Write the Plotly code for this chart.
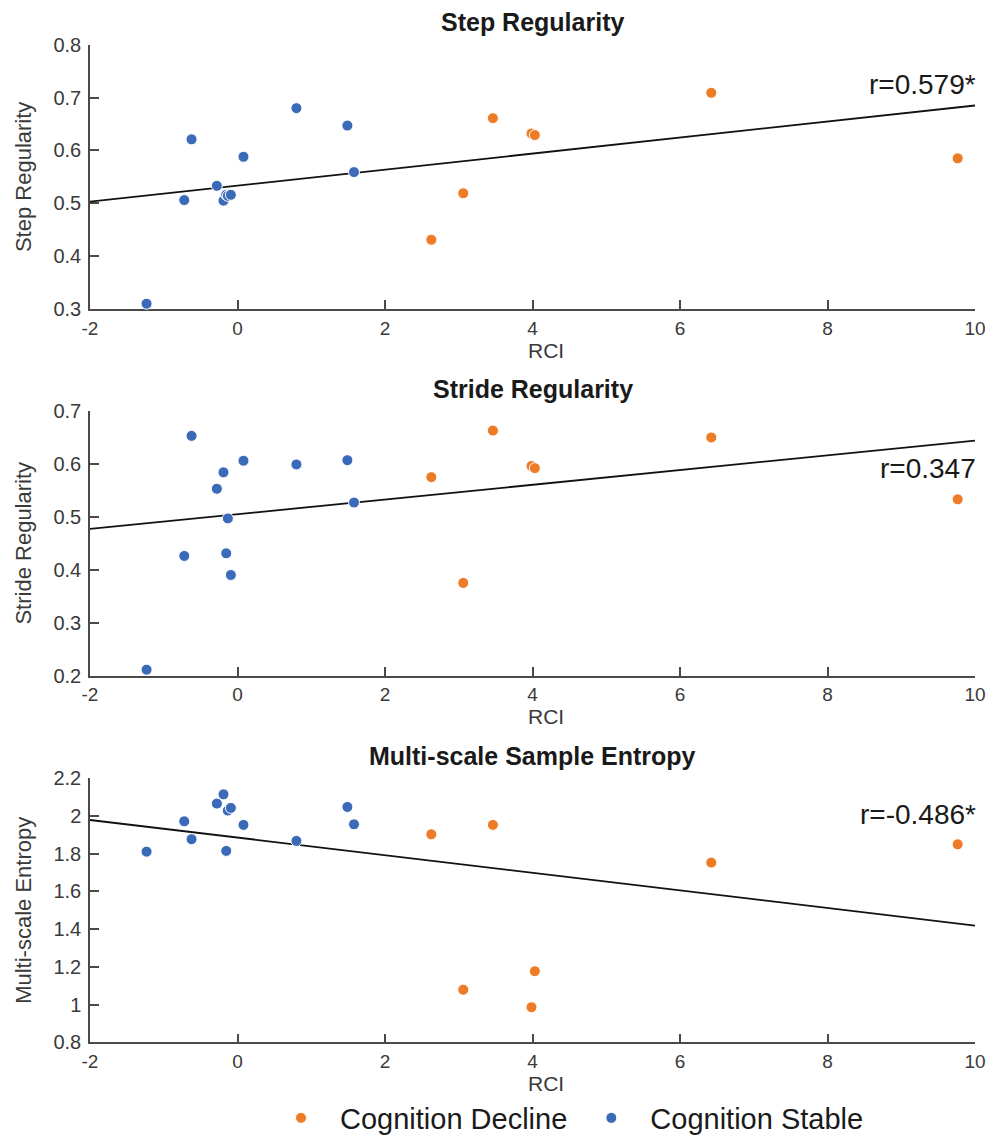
import plotly.graph_objects as go

# ---------------- data ----------------
stable_x = [-1.233, -0.722, -0.623, -0.280, -0.190, -0.153, -0.131, -0.090, 0.081, 0.799, 1.490, 1.580]
decline_x = [2.628, 3.061, 3.463, 3.986, 4.032, 6.424, 9.765]

step_stable = [0.310, 0.506, 0.621, 0.533, 0.505, 0.516, 0.514, 0.516, 0.588, 0.680, 0.647, 0.559]
step_decline = [0.431, 0.519, 0.661, 0.632, 0.629, 0.709, 0.585]

stride_stable = [0.211, 0.426, 0.653, 0.553, 0.584, 0.431, 0.497, 0.390, 0.606, 0.599, 0.607, 0.527]
stride_decline = [0.575, 0.375, 0.663, 0.596, 0.592, 0.650, 0.533]

mse_stable = [1.811, 1.972, 1.877, 2.066, 2.115, 1.815, 2.029, 2.043, 1.953, 1.868, 2.048, 1.956]
mse_decline = [1.903, 1.079, 1.953, 0.986, 1.177, 1.753, 1.850]

fit_x = [-2, 10]
step_fit = [0.503, 0.685]
stride_fit = [0.477, 0.644]
mse_fit = [1.979, 1.419]

titles = ["Step Regularity", "Stride Regularity", "Multi-scale Sample Entropy"]
ytitles = ["Step Regularity", "Stride Regularity", "Multi-scale Entropy"]
xtitle = "RCI"
r_labels = ["r=0.579*", "r=0.347", "r=-0.486*"]
r_label_y = [0.725, 0.592, 2.006]

x_ticks = [-2, 0, 2, 4, 6, 8, 10]
x_ticktext = ["-2", "0", "2", "4", "6", "8", "10"]
y_ticks = [
    [0.3, 0.4, 0.5, 0.6, 0.7, 0.8],
    [0.2, 0.3, 0.4, 0.5, 0.6, 0.7],
    [0.8, 1.0, 1.2, 1.4, 1.6, 1.8, 2.0, 2.2],
]
y_ticktext = [
    ["0.3", "0.4", "0.5", "0.6", "0.7", "0.8"],
    ["0.2", "0.3", "0.4", "0.5", "0.6", "0.7"],
    ["0.8", "1", "1.2", "1.4", "1.6", "1.8", "2", "2.2"],
]
y_ranges = [[0.3, 0.8], [0.2, 0.7], [0.8, 2.2]]

# ---------------- style ----------------
W, H = 993, 1138
BLUE = "#3b6bb8"
ORANGE = "#ee7b26"
AXIS = "#4a4a4a"
TXT = "#3a3a3a"
FONT = "Liberation Sans, Arial, Helvetica, sans-serif"

# plot areas in pixels (top, bottom)
panels_px = [(44.7, 309.0), (411.0, 675.5), (778.3, 1042.3)]
L, R = 90, 18
PW = W - L - R

fig = go.Figure()

stable_sets = [step_stable, stride_stable, mse_stable]
decline_sets = [step_decline, stride_decline, mse_decline]
fits = [step_fit, stride_fit, mse_fit]

for i in range(3):
    xa = "x" if i == 0 else f"x{i+1}"
    ya = "y" if i == 0 else f"y{i+1}"
    fig.add_trace(go.Scatter(
        x=fit_x, y=fits[i], mode="lines", xaxis=xa, yaxis=ya,
        line=dict(color="#111111", width=1.8), showlegend=False, hoverinfo="skip",
        cliponaxis=False))
    fig.add_trace(go.Scatter(
        x=decline_x, y=decline_sets[i], mode="markers", xaxis=xa, yaxis=ya,
        name="Cognition Decline", legendgroup="decline", showlegend=(i == 0),
        marker=dict(color=ORANGE, size=11, line=dict(color="white", width=1)),
        cliponaxis=False))
    fig.add_trace(go.Scatter(
        x=stable_x, y=stable_sets[i], mode="markers", xaxis=xa, yaxis=ya,
        name="Cognition Stable", legendgroup="stable", showlegend=(i == 0),
        marker=dict(color=BLUE, size=11, line=dict(color="white", width=1)),
        cliponaxis=False))

layout = dict(
    width=W, height=H,
    margin=dict(l=L, r=R, t=0, b=0, autoexpand=False),
    paper_bgcolor="white", plot_bgcolor="white",
    font=dict(family=FONT, color=TXT),
    showlegend=True,
    legend=dict(orientation="h", xref="container", x=262 / W, xanchor="left",
                yref="container", y=(H - 1118) / H, yanchor="middle",
                font=dict(size=29, color="#1a1a1a"), bgcolor="rgba(0,0,0,0)",
                itemwidth=68, tracegroupgap=0),
)

annotations = []
for i, (top, bot) in enumerate(panels_px):
    dom = [(H - bot) / H, (H - top) / H]
    sx = "" if i == 0 else str(i + 1)
    layout[f"xaxis{sx}"] = dict(
        domain=[0, 1], range=[-2, 10], anchor=f"y{sx}",
        tickmode="array", tickvals=x_ticks, ticktext=x_ticktext,
        showline=True, linecolor=AXIS, linewidth=1.5, mirror=False,
        ticks="inside", ticklen=9, tickwidth=1.5, tickcolor=AXIS,
        showgrid=False, zeroline=False, layer="below traces",
        tickfont=dict(size=19, color=TXT), ticklabelstandoff=1,
        automargin=False,
    )
    layout[f"yaxis{sx}"] = dict(
        domain=dom, range=y_ranges[i], anchor=f"x{sx}",
        tickmode="array", tickvals=y_ticks[i], ticktext=y_ticktext[i],
        showline=True, linecolor=AXIS, linewidth=1.5, mirror=False,
        ticks="inside", ticklen=9, tickwidth=1.5, tickcolor=AXIS,
        showgrid=False, zeroline=False, layer="below traces",
        tickfont=dict(size=20, color=TXT), ticklabelstandoff=3,
        title=dict(text=ytitles[i], font=dict(size=22, color=TXT), standoff=16),
        automargin=False,
    )
    annotations.append(dict(
        text=f"<b>{titles[i]}</b>", xref="paper", yref="paper",
        x=0.5, y=(H - (top - 22.5)) / H, xanchor="center", yanchor="middle",
        showarrow=False, font=dict(size=25, color="#1a1a1a")))
    annotations.append(dict(
        text=xtitle, xref="paper", yref="paper",
        x=(546 - L) / PW, y=(H - (bot + 41)) / H, xanchor="center", yanchor="middle",
        showarrow=False, font=dict(size=21, color=TXT)))
    annotations.append(dict(
        text=r_labels[i], xref=f"x{sx}", yref=f"y{sx}",
        x=10, y=r_label_y[i], xanchor="right", yanchor="middle",
        showarrow=False, font=dict(size=28, color="#1a1a1a"), xshift=3))

layout["annotations"] = annotations
fig.update_layout(**layout)
fig.write_html(
    "out.html",
    config={"displayModeBar": False},
    post_script="document.body.style.margin='0px';document.body.style.overflow='hidden';",
)
